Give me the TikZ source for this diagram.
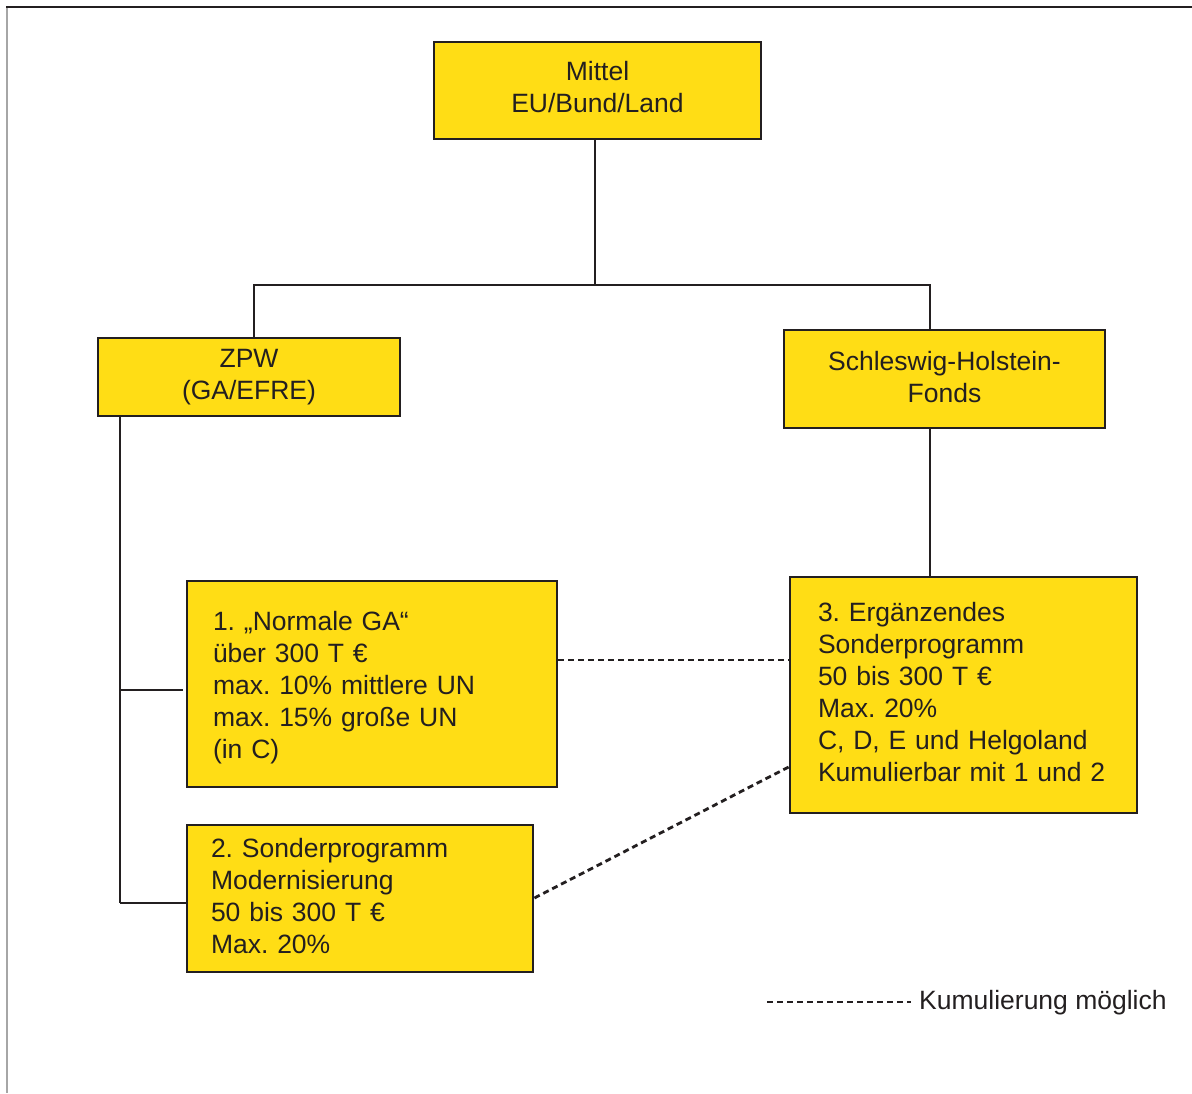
\documentclass[tikz,border=0pt]{standalone}
\usepackage{fontspec}
\setmainfont{Liberation Sans}
\frenchspacing
\definecolor{boxyellow}{RGB}{255,221,21}
\definecolor{linedark}{RGB}{35,31,32}
\newcommand{\upby}[1]{\rule[-#1pt]{0pt}{0pt}}
\newcommand{\downby}[1]{\rule{0pt}{#1pt}}
\begin{document}
\begin{tikzpicture}[x=1pt,y=-1pt,
  every node/.style={font=\fontsize{26.5}{32}\selectfont, text=linedark},
  ybox/.style={draw=linedark, fill=boxyellow, line width=2.8pt, inner sep=0pt, align=center},
  lbox/.style={draw=linedark, fill=boxyellow, line width=2.8pt, inner ysep=0pt, align=left},
  conn/.style={draw=linedark, line width=2.8pt},
  kum/.style={draw=linedark, line width=2.8pt, dash pattern=on 6pt off 4pt}]
\useasboundingbox (0,0) rectangle (1192,1093);
% frame
\draw[line width=2pt, gray!70] (7,7) -- (7,1093);
\draw[line width=2pt, linedark] (6,7) -- (1192,7);
% boxes
\node[ybox, minimum width=327pt, minimum height=97pt] (top) at (597.5,90.5) {Mittel\\EU/Bund/Land\upby{8}};
\node[ybox, minimum width=302pt, minimum height=78pt] (zpw) at (249,377) {ZPW\\(GA/EFRE)};
\node[ybox, minimum width=321pt, minimum height=98pt] (sh) at (944.5,379) {Schleswig-Holstein-\\Fonds\upby{4}};
\node[lbox, inner xsep=26pt, text width=318pt, minimum height=206pt] (b1) at (372,684)
  {\downby{27}1. „Normale GA“\\über 300 T €\\max. 10\% mittlere UN\\max. 15\% große UN\\(in C)};
\node[lbox, inner xsep=24pt, text width=298pt, minimum height=147pt] (b2) at (360,898.5)
  {2. Sonderprogramm\\Modernisierung\\50 bis 300 T €\\Max. 20\%\upby{6}};
\node[lbox, inner xsep=28pt, text width=291pt, minimum height=236pt] (b3) at (963.5,695)
  {3. Ergänzendes\\Sonderprogramm\\50 bis 300 T €\\Max. 20\%\\C, D, E und Helgoland\\Kumulierbar mit 1 und 2\upby{6}};
% tree connectors
\coordinate (fork) at (595,285);
\coordinate (forkL) at (254,285);
\coordinate (forkR) at (930,285);
\draw[conn] (top.south -| fork) -- (fork);
\draw[conn] (forkL |- zpw.north) -- (forkL) -- (forkR) -- (forkR |- sh.north);
\draw[conn] (sh.south -| forkR) -- (forkR |- b3.north);
\coordinate (trunkT) at (120,416);
\coordinate (trunkB) at (120,903);
\coordinate (br1) at (120,690);
\coordinate (br1e) at (183,690);
\draw[conn] (zpw.south -| trunkT) -- (trunkB);
\draw[conn] (br1) -- (br1e);
\draw[conn] (trunkB) -- (trunkB -| b2.west);
% cumulation links
\draw[kum] (b1.east |- 0,660) -- (b3.west |- 0,660);
\draw[kum] (b2.east |- 0,898) -- (b3.west |- 0,767);
% legend
\node[anchor=west, inner sep=0pt] (leg) at (919,1003) {Kumulierung möglich};
\coordinate (legS) at (767,1002);
\coordinate (legE) at (911,1002);
\draw[kum] (legS) -- (legE);
\end{tikzpicture}
\end{document}
